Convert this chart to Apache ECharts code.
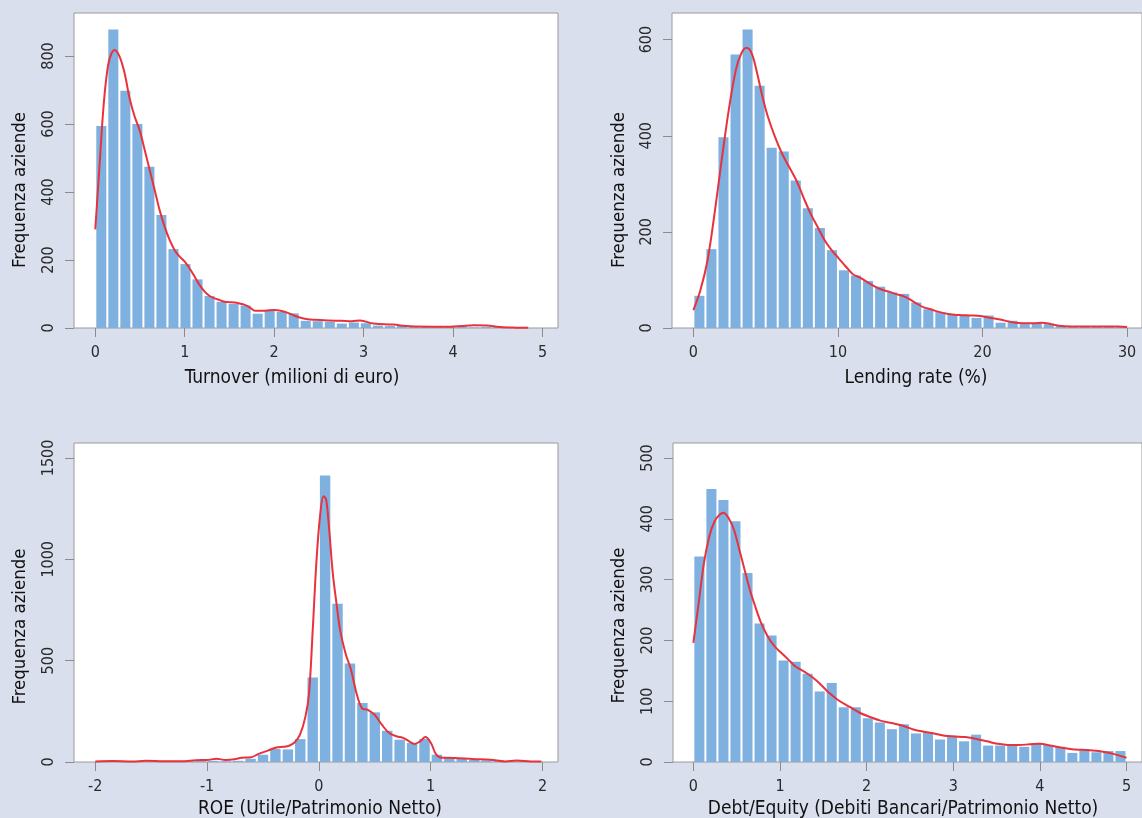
<!DOCTYPE html>
<html><head><meta charset="utf-8">
<script src="https://cdn.jsdelivr.net/npm/echarts@6/dist/echarts.min.js"></script>
<style>html,body{margin:0;padding:0;background:#DADFED;}#c{width:1142px;height:818px;}</style>
</head><body><div id="c"></div>
<script>
// ---------- DATA ----------
const yTitle = 'Frequenza aziende';
const xTitles = ['Turnover (milioni di euro)', 'Lending rate (%)', 'ROE (Utile/Patrimonio Netto)', 'Debt/Equity (Debiti Bancari/Patrimonio Netto)'];

// Panel 1: Turnover
const turnoverRange = [0, 4.84];
const turnoverCounts = [594, 878, 698, 600, 474, 332, 232, 188, 143, 94, 77, 71, 66, 42, 51, 47, 43, 21, 20, 18, 13, 16, 14, 7, 6, 6, 4, 3, 2, 3, 3, 2, 3, 4, 2, 1];
const turnoverDensity = [[0,290],[0.049,484],[0.086,631],[0.123,734],[0.161,793],[0.217,818],[0.272,798],[0.328,749],[0.384,675],[0.44,622],[0.496,582],[0.552,524],[0.608,465],[0.664,406],[0.719,347],[0.775,298],[0.831,259],[0.887,229],[0.943,210],[1.0,195],[1.055,175],[1.111,151],[1.167,126],[1.223,107],[1.279,94],[1.335,87],[1.391,82],[1.447,77],[1.503,76],[1.558,75],[1.614,72],[1.67,68],[1.726,61],[1.782,51],[1.894,51],[2.005,53],[2.117,48],[2.229,36],[2.341,27],[2.452,24],[2.6,22],[2.75,21],[2.87,20],[2.96,22],[3.11,13],[3.33,10],[3.52,5],[3.78,4],[3.97,4],[4.1,6],[4.23,8],[4.38,7],[4.52,3],[4.7,1],[4.84,0.5]];
const turnoverXTicks = [0, 1, 2, 3, 4, 5];
const turnoverYTicks = [0, 200, 400, 600, 800];

// Panel 2: Lending rate
const lendingRange = [0, 30];
const lendingCounts = [67, 164, 397, 569, 621, 504, 375, 367, 307, 249, 208, 162, 120, 109, 98, 86, 74, 71, 53, 39, 33, 28, 26, 21, 26, 11, 15, 8, 10, 8, 4, 3, 3, 2, 3, 2];
const lendingDensity = [[0,37],[0.49,79],[0.98,141],[1.47,239],[1.96,350],[2.45,454],[2.94,537],[3.31,571],[3.68,583],[4.04,571],[4.41,530],[4.78,481],[5.15,440],[5.64,398],[6.13,363],[6.61,336],[7.11,308],[7.6,273],[8.09,239],[8.58,211],[9.07,183],[9.56,162],[10.05,145],[10.54,128],[11.03,112],[11.52,105],[12.0,96],[12.5,87],[13.0,80],[13.48,76],[13.97,71],[14.46,67],[14.95,60],[15.44,51],[15.93,43],[16.42,39],[16.91,34],[17.64,29],[18.38,27],[19.11,26],[19.85,25],[20.58,21],[21.31,17],[22.05,12],[22.78,10],[23.52,10],[24.13,11],[24.75,8],[25.48,4],[26.46,3],[27.93,3],[29.4,3],[30,2]];
const lendingXTicks = [0, 10, 20, 30];
const lendingYTicks = [0, 200, 400, 600];

// Panel 3: ROE
const roeRange = [-2, 2];
const roeCounts = [2, 4, 1, 3, 2, 2, 3, 4, 5, 6, 4, 6, 16, 36, 64, 62, 113, 417, 1414, 781, 486, 291, 245, 154, 110, 94, 113, 36, 23, 15, 10, 8, 6, 4, 5, 3];
const roeDensity = [[-2,3],[-1.84,5],[-1.67,2],[-1.55,6],[-1.38,4],[-1.23,4],[-1.1,9],[-1.0,10],[-0.917,16],[-0.835,10],[-0.757,13],[-0.69,21],[-0.608,23],[-0.543,39],[-0.462,55],[-0.38,72],[-0.316,75],[-0.267,80],[-0.218,96],[-0.169,135],[-0.12,225],[-0.088,340],[-0.055,653],[-0.023,982],[0.01,1212],[0.042,1311],[0.065,1294],[0.092,1146],[0.124,932],[0.157,784],[0.189,653],[0.238,537],[0.287,455],[0.336,340],[0.384,266],[0.433,258],[0.498,233],[0.563,184],[0.628,143],[0.693,127],[0.758,118],[0.807,102],[0.856,89],[0.905,102],[0.953,123],[1.002,94],[1.05,36],[1.1,21],[1.21,20],[1.375,15],[1.537,11],[1.667,3],[1.765,7],[1.895,3],[1.99,2]];
const roeXTicks = [-2, -1, 0, 1, 2];
const roeYTicks = [0, 500, 1000, 1500];

// Panel 4: Debt/Equity
const debtRange = [0, 5];
const debtCounts = [338, 449, 431, 396, 311, 228, 208, 167, 165, 145, 116, 130, 90, 90, 72, 65, 54, 62, 47, 49, 37, 43, 34, 45, 27, 27, 28, 25, 31, 28, 25, 15, 21, 16, 18, 18];
const debtDensity = [[0,196],[0.061,261],[0.122,327],[0.184,371],[0.245,396],[0.306,407],[0.347,410],[0.408,401],[0.469,382],[0.531,349],[0.592,316],[0.653,283],[0.714,256],[0.776,231],[0.857,207],[0.939,190],[1.02,179],[1.1,168],[1.18,157],[1.31,146],[1.43,133],[1.55,116],[1.67,102],[1.8,91],[1.92,81],[2.04,74],[2.16,68],[2.29,64],[2.41,60],[2.53,54],[2.65,50],[2.78,47],[2.9,43],[3.02,42],[3.14,41],[3.27,38],[3.39,34],[3.51,30],[3.63,28],[3.76,28],[3.88,29],[4.0,30],[4.12,27],[4.24,24],[4.37,21],[4.49,20],[4.61,19],[4.73,17],[4.86,13],[5.0,7]];
const debtXTicks = [0, 1, 2, 3, 4, 5];
const debtYTicks = [0, 100, 200, 300, 400, 500];

// ---------- STYLE / LAYOUT ----------
const FONT = "'Liberation Sans Narrow', 'DejaVu Sans Condensed', 'Open Sans', sans-serif";
const BAR = '#7EB0E0', RED = '#E8323C', AXIS = '#9A9A9A', TICK = '#8C8C8C', TXT = '#2A2A2A';

const panels = [
  {grid:{left:74, top:13, width:484, height:315}, x:[-0.238, 5.173], y:926.5, range:turnoverRange, counts:turnoverCounts, dens:turnoverDensity, xt:turnoverXTicks, yt:turnoverYTicks, xTitlePos:[292,369], yTitlePos:[20.5,190]},
  {grid:{left:672, top:13, width:484, height:315}, x:[-1.478, 31.03], y:655.4, range:lendingRange, counts:lendingCounts, dens:lendingDensity, xt:lendingXTicks, yt:lendingYTicks, xTitlePos:[916,369], yTitlePos:[619,190]},
  {grid:{left:74, top:443, width:484, height:319}, x:[-2.1905, 2.1386], y:1573.8, range:roeRange, counts:roeCounts, dens:roeDensity, xt:roeXTicks, yt:roeYTicks, xTitlePos:[320,800], yTitlePos:[20.5,626.5]},
  {grid:{left:673, top:443, width:484, height:319}, x:[-0.235, 5.179], y:524.7, range:debtRange, counts:debtCounts, dens:debtDensity, xt:debtXTicks, yt:debtYTicks, xTitlePos:[903,800], yTitlePos:[619,625.5]}
];

const plain = v => String(v);
const grids = [], xAxes = [], yAxes = [], series = [], graphics = [];
panels.forEach((p, i) => {
  grids.push(Object.assign({show:true, backgroundColor:'#fff', borderColor:AXIS, borderWidth:1, containLabel:false}, p.grid));
  xAxes.push({type:'value', gridIndex:i, min:p.x[0], max:p.x[1], position:'bottom',
    axisLine:{show:false, onZero:false}, splitLine:{show:false},
    axisTick:{show:true, inside:false, length:9, customValues:p.xt, lineStyle:{color:TICK, width:1}},
    axisLabel:{customValues:p.xt, formatter:plain, margin:17, fontSize:16, color:TXT, fontFamily:FONT}});
  yAxes.push({type:'value', gridIndex:i, min:0, max:p.y, position:'left',
    axisLine:{show:false, onZero:false}, splitLine:{show:false},
    axisTick:{show:true, inside:false, length:9, customValues:p.yt, lineStyle:{color:TICK, width:1}},
    axisLabel:{customValues:p.yt, formatter:plain, rotate:90, margin:17, fontSize:16, color:TXT, fontFamily:FONT}});
  const n = p.counts.length, w = (p.range[1] - p.range[0]) / n;
  series.push({type:'custom', xAxisIndex:i, yAxisIndex:i, clip:true, silent:true,
    data: p.counts.map((c, k) => [p.range[0] + k * w, p.range[0] + (k + 1) * w, c]),
    encode:{x:[0,1], y:2},
    renderItem:(params, api) => {
      const a = api.coord([api.value(0), api.value(2)]);
      const b = api.coord([api.value(1), 0]);
      return {type:'rect', shape:{x:a[0] + 1, y:a[1], width:b[0] - a[0] - 2, height:b[1] - a[1]}, style:{fill:BAR}};
    }});
  series.push({type:'line', xAxisIndex:i, yAxisIndex:i, data:p.dens, smooth:0.35, showSymbol:false, silent:true, clip:true, z:5,
    lineStyle:{color:RED, width:2}});
  graphics.push({type:'text', x:p.xTitlePos[0], y:p.xTitlePos[1], style:{text:xTitles[i], fontSize:19, fontFamily:FONT, fill:'#111', textAlign:'center', textVerticalAlign:'top'}});
  graphics.push({type:'text', x:p.yTitlePos[0], y:p.yTitlePos[1], rotation:Math.PI/2, style:{text:yTitle, fontSize:18.5, fontFamily:FONT, fill:'#111', textAlign:'center', textVerticalAlign:'middle'}});
});

const chart = echarts.init(document.getElementById('c'), null, {renderer:'canvas'});
chart.setOption({backgroundColor:'#DADFED', animation:false, grid:grids, xAxis:xAxes, yAxis:yAxes, series, graphic:graphics});
</script></body></html>
